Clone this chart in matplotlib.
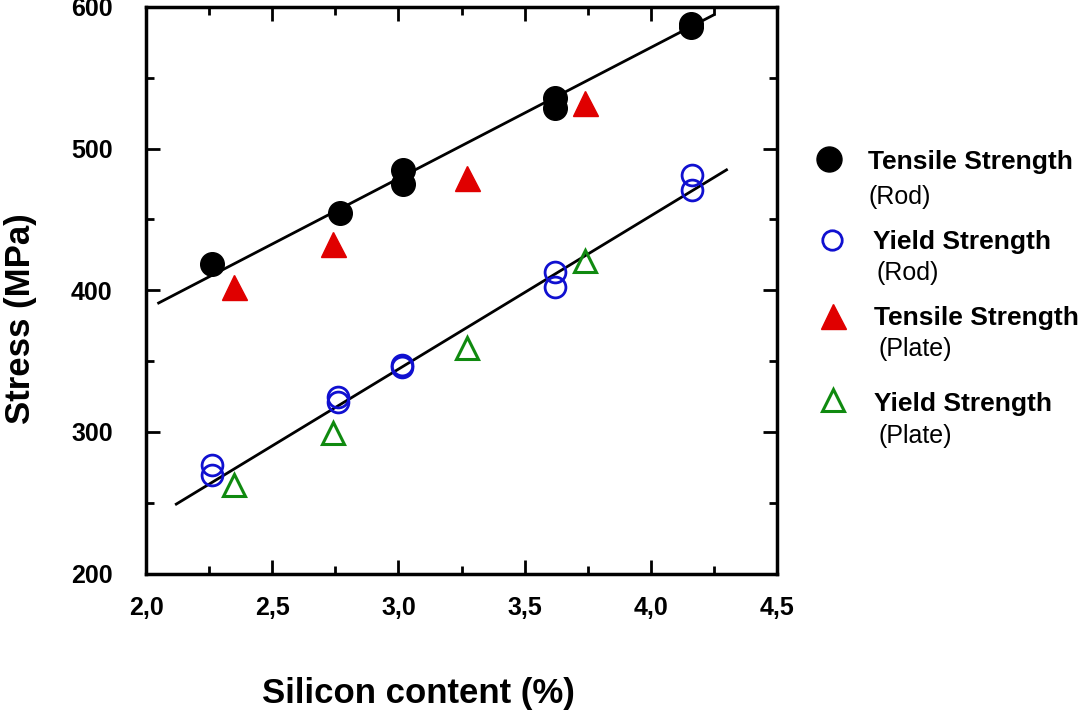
import numpy as np
import matplotlib
matplotlib.use('Agg')
import matplotlib.pyplot as plt
from matplotlib.ticker import MultipleLocator, FuncFormatter

plt.rcParams['font.family'] = ['Liberation Sans', 'DejaVu Sans']

# Tensile strength, rod (filled black circles)
ts_rod_x = [2.26, 2.77, 3.02, 3.02, 3.62, 3.62, 4.16, 4.16]
ts_rod_y = [418.5, 454.5, 485, 475, 535.5, 528.5, 588, 586]

# Yield strength, rod (open blue circles)
ys_rod_x = [2.26, 2.26, 2.76, 2.76, 3.015, 3.015, 3.62, 3.62, 4.165, 4.165]
ys_rod_y = [276.5, 269.5, 324.5, 321, 347, 345.5, 413, 402.5, 481.5, 471]

# Tensile strength, plate (filled red triangles)
ts_plate_x = [2.35, 2.74, 3.27, 3.74]
ts_plate_y = [402.5, 432.5, 479.5, 532.5]

# Yield strength, plate (open green triangles)
ys_plate_x = [2.35, 2.74, 3.27, 3.74]
ys_plate_y = [262.5, 299, 359, 421]

# fitted lines (end points)
ts_fit_x = [2.05, 4.25]
ts_fit_y = [391, 594.5]
ys_fit_x = [2.12, 4.30]
ys_fit_y = [249, 485]

W, H = 1080, 713
fig = plt.figure(figsize=(W / 100, H / 100), dpi=100)
ax = fig.add_axes([146 / W, 1 - 573.5 / H, (777 - 146) / W, (573.5 - 7) / H])

BLUE = '#1010d0'
RED = '#e00000'
GREEN = '#108a10'

ax.plot(ts_fit_x, ts_fit_y, color='black', lw=2, zorder=2)
ax.plot(ys_fit_x, ys_fit_y, color='black', lw=2, zorder=2)

ax.plot(ts_rod_x, ts_rod_y, 'o', ms=17, color='black', zorder=3)
ax.plot(ys_rod_x, ys_rod_y, 'o', ms=15, mfc='none', mec=BLUE, mew=2, zorder=3)
ax.plot(ts_plate_x, ts_plate_y, '^', ms=18, color=RED, mec=RED, zorder=3)
ax.plot(ys_plate_x, ys_plate_y, '^', ms=16.5, mfc='none', mec=GREEN, mew=2.2, zorder=3)

ax.set_xlim(2.0, 4.5)
ax.set_ylim(200, 600)
ax.xaxis.set_major_locator(MultipleLocator(0.5))
ax.xaxis.set_minor_locator(MultipleLocator(0.25))
ax.yaxis.set_major_locator(MultipleLocator(100))
ax.yaxis.set_minor_locator(MultipleLocator(50))
ax.xaxis.set_major_formatter(FuncFormatter(lambda v, p: f'{v:.1f}'.replace('.', ',')))

ax.tick_params(which='both', direction='in', top=True, right=True, width=2)
ax.tick_params(which='major', length=10)
ax.tick_params(which='minor', length=6)
ax.tick_params(axis='x', which='major', pad=16)
ax.tick_params(axis='y', which='major', pad=24)
plt.setp(ax.get_xticklabels() + ax.get_yticklabels(), fontsize=18, fontweight='bold')
for s in ax.spines.values():
    s.set_linewidth(2.5)

fig.text(418 / W, 1 - 693 / H, 'Silicon content (%)', ha='center', va='center',
         fontsize=25, fontweight='bold')
fig.text(21 / W, 1 - 319 / H, 'Stress (MPa)', ha='center', va='center',
         rotation=90, fontsize=25, fontweight='bold')

# hand-built legend to the right of the axes
def px(x, y):
    return x / W, 1 - y / H

legend_items = [
    ((829, 159), dict(marker='o', ms=18, color='black'), 'Tensile Strength', (868, 162), '(Rod)', (868, 197)),
    ((832, 240), dict(marker='o', ms=14, mfc='none', mec=BLUE, mew=2), 'Yield Strength', (873, 242), '(Rod)', (876, 273)),
    ((833, 316), dict(marker='^', ms=18, color=RED), 'Tensile Strength', (874, 318), '(Plate)', (878, 349)),
    ((833, 400), dict(marker='^', ms=16.5, mfc='none', mec=GREEN, mew=2.2), 'Yield Strength', (874, 404), '(Plate)', (878, 436)),
]
for mpos, mstyle, title, tpos, sub, spos in legend_items:
    mx, my = px(*mpos)
    fig.add_artist(plt.Line2D([mx], [my], linestyle='none', transform=fig.transFigure, **mstyle))
    fig.text(*px(*tpos), title, ha='left', va='center', fontsize=19, fontweight='bold')
    fig.text(*px(*spos), sub, ha='left', va='center', fontsize=18)

fig.savefig('out.png', dpi=100)
